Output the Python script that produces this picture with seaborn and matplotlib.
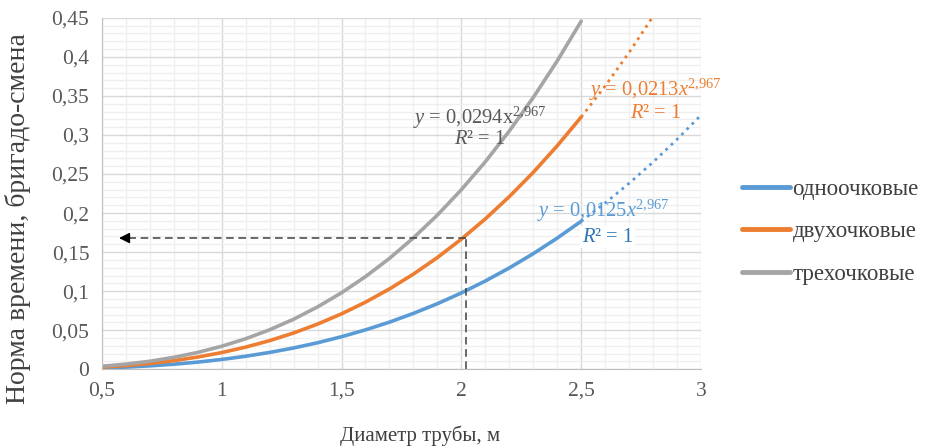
import numpy as np
import pandas as pd
import seaborn as sns
import matplotlib.pyplot as plt
from matplotlib.ticker import MultipleLocator, FuncFormatter

# === data ===
diam = [0.5, 0.6, 0.7, 0.8, 0.9, 1.0, 1.1, 1.2, 1.3, 1.4, 1.5,
        1.6, 1.7, 1.8, 1.9, 2.0, 2.1, 2.2, 2.3, 2.4, 2.5]
odno = [0.0016, 0.0027, 0.0043, 0.0064, 0.0091, 0.0125, 0.0166, 0.0215, 0.0272, 0.0339, 0.0416,
        0.0504, 0.0603, 0.0715, 0.0839, 0.0977, 0.1130, 0.1297, 0.1480, 0.1679, 0.1895]
dvuh = [0.0027, 0.0047, 0.0074, 0.0110, 0.0156, 0.0213, 0.0283, 0.0366, 0.0464, 0.0578, 0.0709,
        0.0859, 0.1028, 0.1218, 0.1430, 0.1666, 0.1925, 0.2210, 0.2521, 0.2861, 0.3229]
treh = [0.0038, 0.0065, 0.0102, 0.0152, 0.0215, 0.0294, 0.0390, 0.0505, 0.0640, 0.0798, 0.0979,
        0.1186, 0.1419, 0.1682, 0.1974, 0.2299, 0.2657, 0.3050, 0.3480, 0.3948, 0.4457]

# trend line continuation (dotted)
trend_x = [2.5, 2.6, 2.7, 2.8, 2.9, 3.0]
trend_odno = [0.1895, 0.2129, 0.2381, 0.2652, 0.2944, 0.3255]
trend_dvuh = [0.3229, 0.3627, 0.4057, 0.4519, None, None]

series_names = ['одноочковые', 'двухочковые', 'трехочковые']
colors = ['#5B9BD5', '#ED7D31', '#A5A5A5']

# reading example (dashed arrow)
read_x = 2.02
read_y = 0.168
arrow_end_x = 0.56

df = pd.DataFrame({
    'x': diam * 3,
    'y': odno + dvuh + treh,
    'series': [series_names[0]] * len(diam) + [series_names[1]] * len(diam) + [series_names[2]] * len(diam),
})

sns.set_style('white')
plt.rcParams['font.family'] = ['Liberation Serif', 'DejaVu Serif']
plt.rcParams['mathtext.fontset'] = 'custom'
plt.rcParams['mathtext.rm'] = 'Liberation Serif'
plt.rcParams['mathtext.it'] = 'Liberation Serif:italic'

fig, ax = plt.subplots(figsize=(9.26, 4.47), dpi=100)
fig.subplots_adjust(left=0.110, right=0.757, top=0.960, bottom=0.174)

# grid
ax.xaxis.set_major_locator(MultipleLocator(0.5))
ax.xaxis.set_minor_locator(MultipleLocator(0.1))
ax.yaxis.set_major_locator(MultipleLocator(0.05))
ax.yaxis.set_minor_locator(MultipleLocator(0.01))
ax.grid(which='major', color='#D9D9D9', linewidth=1.0)
ax.grid(which='minor', color='#EFEFEF', linewidth=0.9)
ax.set_axisbelow(True)

sns.lineplot(data=df, x='x', y='y', hue='series', palette=colors, linewidth=2.6, ax=ax, legend=False)

# dotted trend lines
tx = np.array(trend_x)
ax.plot(tx, trend_odno, color=colors[0], linestyle=':', linewidth=2)
ax.plot(tx, np.array(trend_dvuh, dtype=float), color=colors[1], linestyle=':', linewidth=2)

# dashed reading lines + arrow
ax.plot([read_x, read_x], [0, read_y], color='#404040', linestyle='--', linewidth=1.1, dashes=(5, 3))
ax.plot([read_x, arrow_end_x + 0.04], [read_y, read_y], color='#404040', linestyle='--', linewidth=1.1, dashes=(5, 3))
ax.annotate('', xy=(arrow_end_x, read_y), xytext=(arrow_end_x + 0.06, read_y),
            arrowprops=dict(arrowstyle='-|>', color='black', lw=1, mutation_scale=16))

ax.set_xlim(0.5, 3)
ax.set_ylim(0, 0.45)

fmt = FuncFormatter(lambda v, p: ('%g' % round(v, 2)).replace('.', ','))
ax.xaxis.set_major_formatter(fmt)
ax.yaxis.set_major_formatter(fmt)
ax.tick_params(axis='both', which='major', labelsize=15.5, length=5, width=1,
               direction='out', pad=4)
ax.tick_params(axis='both', which='major', labelcolor='#595959', color='#BFBFBF')
ax.tick_params(which='minor', length=0)
for s in ['top', 'right']:
    ax.spines[s].set_visible(False)
for s in ['left', 'bottom']:
    ax.spines[s].set_color('#BFBFBF')

ax.set_xlabel('Диаметр трубы, м', fontsize=15, color='#404040')
ax.xaxis.set_label_coords(0.531, -0.16)
ax.set_ylabel('Норма времени, бригадо-смена', fontsize=20, color='#404040')
ax.yaxis.set_label_coords(-0.118, 0.43)

# trend equations
eq_size = 14.8
ax.text(2.075, 0.322, r'$\it{y}$ = 0,0294x$^{2{,}967}$', fontsize=eq_size, color='#595959', ha='center', va='center')
ax.text(2.075, 0.294, r'$\it{R}$² = 1', fontsize=eq_size, color='#595959', ha='center', va='center')
ax.text(2.81, 0.358, r'$\it{y}$ = 0,0213$\it{x}$$^{2{,}967}$', fontsize=eq_size, color='#ED7D31', ha='center', va='center')
ax.text(2.81, 0.328, r'$\it{R}$² = 1', fontsize=eq_size, color='#ED7D31', ha='center', va='center')
ax.text(2.59, 0.203, r'$\it{y}$ = 0,0125$\it{x}$$^{2{,}967}$', fontsize=eq_size, color='#5B9BD5', ha='center', va='center')
ax.text(2.61, 0.169, r'$\it{R}$² = 1', fontsize=eq_size, color='#2E75B6', ha='center', va='center',
        bbox=dict(facecolor='white', edgecolor='none', pad=1))

# legend
handles = [plt.Line2D([], [], color=c, linewidth=3.5) for c in colors]
fig.legend(handles, series_names, loc='upper left', bbox_to_anchor=(0.7786, 0.645),
           frameon=False, fontsize=16.5, handlelength=2.1, handletextpad=0.12,
           labelspacing=0.92, labelcolor='#404040')

plt.savefig('out.png', dpi=100)
